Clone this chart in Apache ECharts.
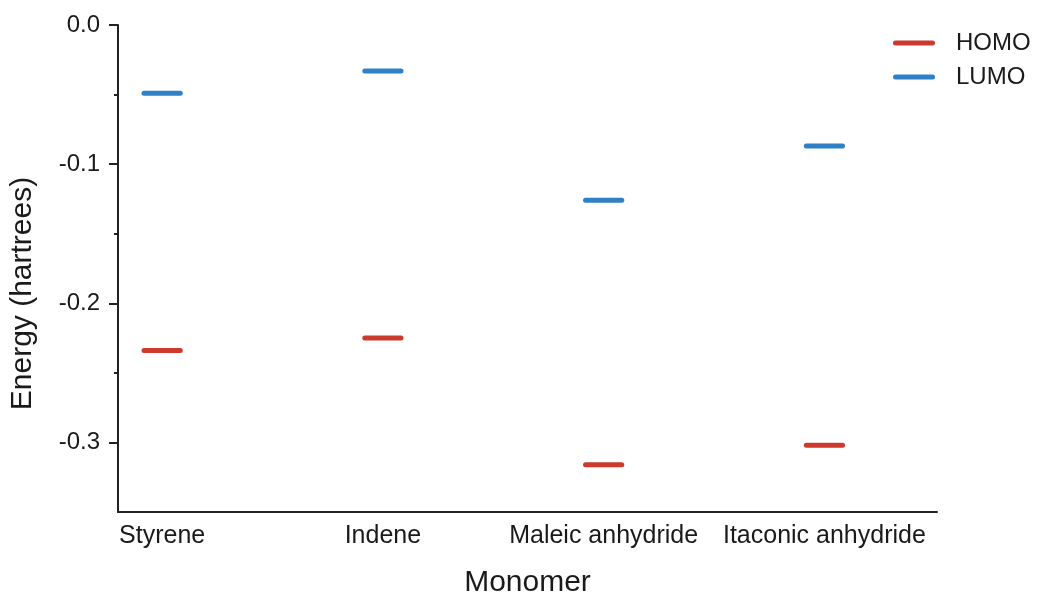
<!DOCTYPE html>
<html>
<head>
<meta charset="utf-8">
<title>HOMO and LUMO energies of monomers</title>
<script src="https://cdn.jsdelivr.net/npm/echarts@6/dist/echarts.min.js"></script>
<style>
  html, body { margin: 0; padding: 0; background: #ffffff; }
  #chart { width: 1044px; height: 594px; }
</style>
</head>
<body>
<div id="chart"></div>
<script>
// Monomers on the x axis
const monomers = ['Styrene', 'Indene', 'Maleic anhydride', 'Itaconic anhydride'];

// Orbital energies (hartrees)
const homo = [-0.234, -0.225, -0.316, -0.302];
const lumo = [-0.049, -0.033, -0.126, -0.087];

// Y axis tick values
const yMajorTicks = [0, -0.1, -0.2, -0.3];
const yMinorTicks = [-0.05, -0.15, -0.25];

// Half width of each energy level bar, in category units
const HALF = 0.082;
const FONT = '"Liberation Sans", Arial, Helvetica, sans-serif';
const INK = '#1a1a1a';

function levelItem(params, api) {
  const i = api.value(0);
  const v = api.value(1);
  const a = api.coord([i - HALF, v]);
  const b = api.coord([i + HALF, v]);
  return {
    type: 'line',
    shape: { x1: a[0], y1: a[1], x2: b[0], y2: b[1] },
    style: { stroke: api.visual('color'), lineWidth: 5, lineCap: 'round' }
  };
}

const legendIcon = 'path://M2.5,0 H39.5 A2.5,2.5 0 0 1 39.5,5 H2.5 A2.5,2.5 0 0 1 2.5,0 Z';

const chart = echarts.init(document.getElementById('chart'), null, { renderer: 'canvas' });

chart.setOption({
  backgroundColor: '#ffffff',
  animation: false,
  grid: { left: 118, right: 107, top: 25, bottom: 82, containLabel: false, outerBoundsMode: 'none' },
  legend: {
    orient: 'vertical',
    left: 893,
    top: 31,
    padding: 0,
    itemWidth: 42,
    itemHeight: 5,
    itemGap: 10,
    textStyle: { fontFamily: FONT, fontSize: 24, lineHeight: 24, color: INK, padding: [0, 0, 0, 16] },
    data: [
      { name: 'HOMO', icon: legendIcon },
      { name: 'LUMO', icon: legendIcon }
    ]
  },
  xAxis: {
    type: 'value',
    min: -0.2,
    max: 3.51,
    name: 'Monomer',
    nameLocation: 'middle',
    nameGap: 56,
    nameTextStyle: { fontFamily: FONT, fontSize: 30, color: INK },
    axisLine: { show: true, onZero: false, lineStyle: { color: '#222', width: 2 } },
    axisTick: { show: false },
    splitLine: { show: false },
    axisLabel: {
      customValues: [0, 1, 2, 3],
      formatter: (v) => monomers[Math.round(v)],
      fontFamily: FONT,
      fontSize: 25,
      color: INK,
      margin: 12
    }
  },
  yAxis: [
    {
      type: 'value',
      min: -0.35,
      max: 0,
      name: 'Energy (hartrees)',
      nameLocation: 'middle',
      nameGap: 80,
      nameTextStyle: { fontFamily: FONT, fontSize: 30, color: INK, padding: [0, 50, 0, 0] },
      axisLine: { show: true, onZero: false, lineStyle: { color: '#222', width: 2 } },
      axisTick: { show: true, customValues: yMajorTicks, length: 9, lineStyle: { color: '#222', width: 2 } },
      splitLine: { show: false },
      axisLabel: {
        customValues: yMajorTicks,
        formatter: (v) => v.toFixed(1),
        fontFamily: FONT,
        fontSize: 24,
        color: INK,
        margin: 18
      }
    },
    {
      type: 'value',
      min: -0.35,
      max: 0,
      position: 'left',
      axisLine: { show: false, onZero: false },
      axisTick: { show: true, customValues: yMinorTicks, length: 4, lineStyle: { color: '#222', width: 2 } },
      axisLabel: { show: false },
      splitLine: { show: false }
    }
  ],
  series: [
    {
      name: 'HOMO',
      type: 'custom',
      renderItem: levelItem,
      itemStyle: { color: '#cc392d' },
      encode: { x: 0, y: 1 },
      data: homo.map((v, i) => [i, v])
    },
    {
      name: 'LUMO',
      type: 'custom',
      renderItem: levelItem,
      itemStyle: { color: '#2f81c5' },
      encode: { x: 0, y: 1 },
      data: lumo.map((v, i) => [i, v])
    }
  ]
});
</script>
</body>
</html>
